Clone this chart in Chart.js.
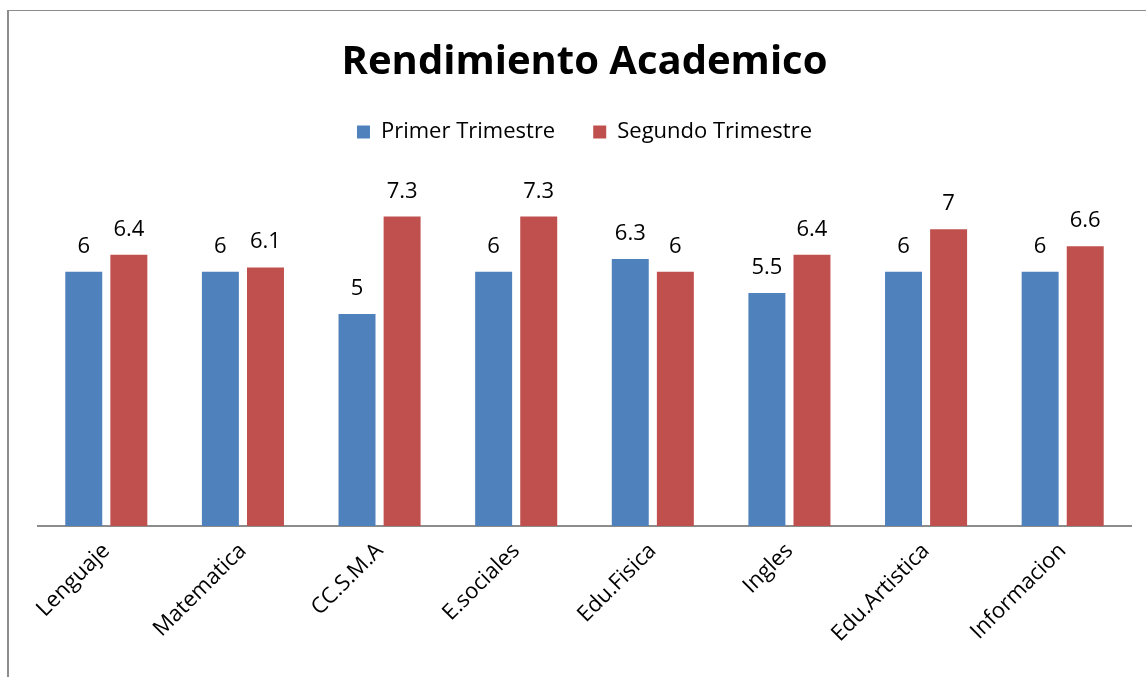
<!DOCTYPE html>
<html>
<head>
<meta charset="utf-8">
<script src="https://cdn.jsdelivr.net/npm/chart.js@4.4.1/dist/chart.umd.min.js"></script>
<style>
  html, body { margin: 0; padding: 0; background: #fff; overflow: hidden; }
  #frame {
    position: absolute; left: 7px; top: 10px; width: 1200px; height: 700px;
    border-left: 2px solid #8c8c8c; border-top: 1px solid #8c8c8c;
  }
  #myChart { position: absolute; left: 0; top: 0; }
</style>
</head>
<body>
<div id="frame"></div>
<canvas id="myChart" width="1146" height="677"></canvas>
<script>
const subjects = ["Lenguaje", "Matematica", "CC.S.M.A", "E.sociales", "Edu.Fisica", "Ingles", "Edu.Artistica", "Informacion"];
const primerTrimestre = [6, 6, 5, 6, 6.3, 5.5, 6, 6];
const segundoTrimestre = [6.4, 6.1, 7.3, 7.3, 6, 6.4, 7, 6.6];

const fontFamily = "'Open Sans', 'Noto Sans', sans-serif";

// labels above each bar
const valueLabels = {
  id: "valueLabels",
  afterDatasetsDraw(chart) {
    const ctx = chart.ctx;
    ctx.save();
    ctx.font = "22px " + fontFamily;
    ctx.fillStyle = "#000";
    ctx.textAlign = "center";
    ctx.textBaseline = "alphabetic";
    chart.data.datasets.forEach((ds, i) => {
      chart.getDatasetMeta(i).data.forEach((bar, j) => {
        ctx.fillText(String(ds.data[j]), bar.x, bar.y - 19);
      });
    });
    ctx.restore();
  }
};

new Chart(document.getElementById("myChart"), {
  type: "bar",
  data: {
    labels: subjects,
    datasets: [
      {
        label: "Primer Trimestre",
        data: primerTrimestre,
        backgroundColor: "#4F81BD",
      },
      {
        label: "Segundo Trimestre",
        data: segundoTrimestre,
        backgroundColor: "#C0504D",
      },
    ],
  },
  options: {
    responsive: false,
    animation: false,
    devicePixelRatio: 1,
    categoryPercentage: 0.66,
    barPercentage: 0.82,
    layout: {
      padding: { left: 38, right: 15, top: 0, bottom: 0 },
    },
    plugins: {
      title: {
        display: true,
        text: "Rendimiento Academico",
        color: "#000",
        font: { family: fontFamily, size: 40, weight: "bold" },
        padding: { top: 39, bottom: -4 },
      },
      legend: {
        display: true,
        labels: {
          color: "#000",
          font: { family: fontFamily, size: 22 },
          boxWidth: 13,
          boxHeight: 13,
          padding: 38,
        },
      },
      tooltip: { enabled: false },
    },
    scales: {
      y: {
        display: false,
        min: 0,
        max: 8.8,
      },
      x: {
        grid: { display: false },
        border: { display: true, color: "#8c8c8c", width: 2 },
        ticks: {
          color: "#000",
          font: { family: fontFamily, size: 22 },
          minRotation: 45,
          maxRotation: 45,
          padding: 4,
        },
        afterFit: (scale) => { scale.height = 151; },
      },
    },
  },
  plugins: [valueLabels],
});
</script>
</body>
</html>
